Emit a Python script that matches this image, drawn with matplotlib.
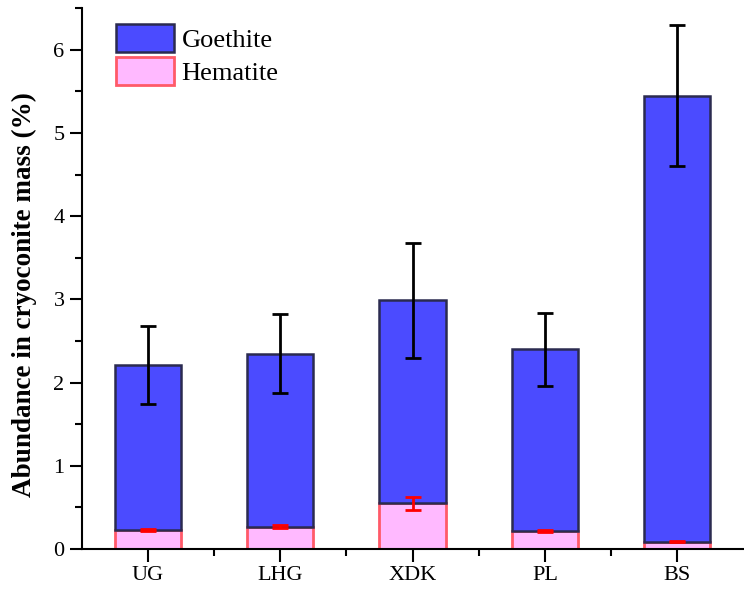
import matplotlib.pyplot as plt
from matplotlib.ticker import MultipleLocator

sites = ["UG", "LHG", "XDK", "PL", "BS"]
hematite = [0.23, 0.27, 0.55, 0.22, 0.09]
hematite_err = [0.015, 0.015, 0.08, 0.01, 0.01]
goethite = [1.98, 2.08, 2.44, 2.18, 5.36]
goethite_err = [0.47, 0.48, 0.69, 0.44, 0.85]

plt.rcParams["font.family"] = ["Liberation Serif", "DejaVu Serif"]

fig = plt.figure(figsize=(7.44, 5.91), dpi=100)
ax = fig.add_axes([0.110, 0.071, 0.889, 0.915])

x = list(range(1, len(sites) + 1))
width = 0.5

ax.bar(x, hematite, width, color="#ffb9ff", edgecolor="#ff5a68",
       linewidth=2, label="Hematite", zorder=2)
ax.bar(x, goethite, width, bottom=hematite, color="#4b4bff",
       edgecolor="#2b2b50", linewidth=1.8, label="Goethite", zorder=2)

tops = [h + g for h, g in zip(hematite, goethite)]
ax.errorbar(x, tops, yerr=goethite_err, fmt="none", ecolor="black",
            elinewidth=2, capsize=6, capthick=2, zorder=3)
ax.errorbar(x, hematite, yerr=hematite_err, fmt="none", ecolor="red",
            elinewidth=2, capsize=6, capthick=2, zorder=3)

ax.set_xlim(0.5, 5.5)
ax.set_ylim(0, 6.5)
ax.set_xticks(x)
ax.set_xticklabels(sites)
ax.set_xticks([1.5, 2.5, 3.5, 4.5], minor=True)
ax.yaxis.set_major_locator(MultipleLocator(1))
ax.yaxis.set_minor_locator(MultipleLocator(0.5))

ax.spines["top"].set_visible(False)
ax.spines["right"].set_visible(False)
for s in ["left", "bottom"]:
    ax.spines[s].set_linewidth(1.5)

ax.tick_params(axis="both", which="major", labelsize=16, width=1.5,
               length=9, direction="out")
ax.tick_params(axis="both", which="minor", width=1.5, length=5,
               direction="out")

ax.set_ylabel("Abundance in cryoconite mass (%)", fontsize=19.5,
              fontweight="bold")
ax.yaxis.set_label_coords(-0.068, 0.47)

handles, labels = ax.get_legend_handles_labels()
ax.legend(handles[::-1], labels[::-1], loc="upper left", frameon=False,
          fontsize=19, handlelength=2.2, handleheight=1.25,
          handletextpad=0.3, labelspacing=0.2,
          bbox_to_anchor=(0.015, 1.015))

fig.savefig("out.png", dpi=100)
